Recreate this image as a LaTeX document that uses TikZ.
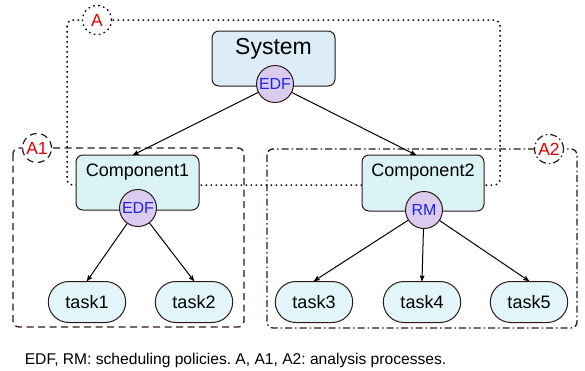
\documentclass[tikz,border=0pt]{standalone}
\usepackage{fontspec}
\setmainfont{Liberation Sans}
\usetikzlibrary{arrows,shapes,backgrounds}
\definecolor{edge}{HTML}{301818}
\definecolor{sysfill}{HTML}{DCEDF7}
\definecolor{compfill}{HTML}{DAF3F4}
\definecolor{taskfill}{HTML}{E2F6F9}
\definecolor{polfill}{HTML}{D9CCEE}
\definecolor{poltext}{HTML}{2222E6}
\definecolor{lbltext}{HTML}{E00000}
\frenchspacing
\begin{document}
\begin{tikzpicture}[x=1pt,y=-1pt,>=stealth',line width=1pt,
  box/.style={draw=edge,rounded corners=7pt,inner sep=0pt},
  pol/.style={circle,draw=edge,fill=polfill,text=poltext,minimum size=37pt,inner sep=0pt,font=\fontsize{16}{16}\selectfont},
  task/.style={draw=edge,fill=taskfill,rounded rectangle,minimum width=84pt,minimum height=41pt,font=\fontsize{18}{18}\selectfont},
  lbl/.style={circle,fill=white,text=lbltext,minimum size=29pt,inner sep=0pt,font=\fontsize{17.5}{17.5}\selectfont},
  dots/.style={dash pattern=on 1.6pt off 3.4pt},
  dashes/.style={dash pattern=on 7pt off 4.5pt},
  dashdots/.style={dash pattern=on 7pt off 3pt on 1.5pt off 3pt}]
\useasboundingbox (0,0) rectangle (585,370);
% analysis boxes
\draw[black,dots,line width=1.5pt,rounded corners=6pt] (67,20) rectangle (500,185);
\draw[edge,dashes,line width=1.3pt,rounded corners=6pt] (13,148) rectangle (244,327);
\draw[edge,dashdots,line width=1.3pt,rounded corners=6pt] (267,149) rectangle (577,328);
\node[lbl,draw=black,dots,line width=1.3pt] (A) at (97,20) {A};
\node[lbl,draw=edge,dashes,line width=1.2pt] (A1) at (37,148) {A1};
\node[lbl,draw=edge,dashdots,line width=1.2pt] (A2) at (549,149) {A2};
%
\node[box,fill=sysfill,minimum width=123pt,minimum height=55pt] (sys) at (273.5,58.5) {};
\node[font=\fontsize{23}{23}\selectfont] (syst) at (273.5,49) {System};
\node[pol] (p0) at (275,84) {EDF};
%
\node[box,fill=compfill,minimum width=123pt,minimum height=55pt] (c1) at (137.5,182.5) {};
\node[font=\fontsize{18}{18}\selectfont] (c1t) at (137.5,172) {Component1};
\node[pol] (p1) at (138,208) {EDF};
\node[box,fill=compfill,minimum width=122pt,minimum height=56pt] (c2) at (423,183) {};
\node[font=\fontsize{18}{18}\selectfont] (c2t) at (423,172) {Component2};
\node[pol] (p2) at (424,210) {RM};
%
\node[task] (t1) at (87,302) {task1};
\node[task] (t2) at (194,302) {task2};
\node[task] (t3) at (314,302) {task3};
\node[task] (t4) at (422,302) {task4};
\node[task] (t5) at (529,302) {task5};
%
\draw[->] (p0) -- (133,155);
\draw[->] (p0) -- (416,155);
\draw[->] (p1) -- (t1.north);
\draw[->] (p1) -- (t2.north);
\draw[->] (p2) -- (t3.north);
\draw[->] (p2) -- (t4.north);
\draw[->] (p2) -- (t5.north);
\node[anchor=west,font=\fontsize{15.6}{15.6}\selectfont] (cap) at (21,360) {EDF, RM: scheduling policies. A, A1, A2: analysis processes.};
\end{tikzpicture}
\end{document}
